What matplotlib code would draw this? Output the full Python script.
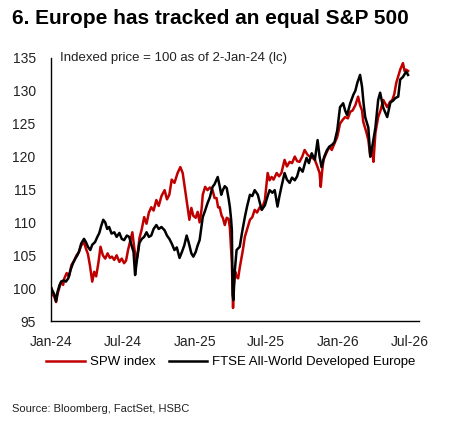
import matplotlib
matplotlib.use("Agg")
import matplotlib.pyplot as plt
import pandas as pd

plt.rcParams['font.family'] = ['Liberation Sans', 'DejaVu Sans']

# SPW index (red), indexed to 100 on 2-Jan-24
spw_dates = [
    "2024-01-02", "2024-01-05", "2024-01-09", "2024-01-14", "2024-01-18", "2024-01-22", "2024-01-27",
    "2024-02-01", "2024-02-04", "2024-02-10", "2024-02-16", "2024-02-22", "2024-02-29", "2024-03-06",
    "2024-03-12", "2024-03-18", "2024-03-25", "2024-03-30", "2024-04-04", "2024-04-09", "2024-04-15",
    "2024-04-20", "2024-04-25", "2024-05-01", "2024-05-06", "2024-05-12", "2024-05-18", "2024-05-24",
    "2024-05-30", "2024-06-04", "2024-06-10", "2024-06-16", "2024-06-23", "2024-06-29", "2024-07-05",
    "2024-07-10", "2024-07-15", "2024-07-20", "2024-07-26", "2024-07-30", "2024-08-05", "2024-08-10",
    "2024-08-13", "2024-08-19", "2024-08-25", "2024-08-31", "2024-09-06", "2024-09-12", "2024-09-18",
    "2024-09-25", "2024-10-01", "2024-10-08", "2024-10-16", "2024-10-22", "2024-10-28", "2024-11-03",
    "2024-11-10", "2024-11-18", "2024-11-25", "2024-12-01", "2024-12-07", "2024-12-12", "2024-12-18",
    "2024-12-23", "2024-12-28", "2025-01-03", "2025-01-08", "2025-01-13", "2025-01-18", "2025-01-21",
    "2025-01-27", "2025-02-02", "2025-02-08", "2025-02-15", "2025-02-20", "2025-02-25", "2025-03-01",
    "2025-03-05", "2025-03-10", "2025-03-13", "2025-03-18", "2025-03-23", "2025-03-28", "2025-03-31",
    "2025-04-03", "2025-04-05", "2025-04-08", "2025-04-10", "2025-04-14", "2025-04-17", "2025-04-21",
    "2025-04-25", "2025-05-03", "2025-05-08", "2025-05-14", "2025-05-21", "2025-05-27", "2025-06-02",
    "2025-06-08", "2025-06-15", "2025-06-20", "2025-06-28", "2025-07-05", "2025-07-10", "2025-07-15",
    "2025-07-20", "2025-07-28", "2025-08-03", "2025-08-09", "2025-08-17", "2025-08-23", "2025-08-30",
    "2025-09-05", "2025-09-12", "2025-09-18", "2025-09-24", "2025-10-01", "2025-10-07", "2025-10-14",
    "2025-10-20", "2025-10-27", "2025-11-02", "2025-11-09", "2025-11-14", "2025-11-17", "2025-11-20",
    "2025-11-24", "2025-12-01", "2025-12-09", "2025-12-15", "2025-12-22", "2025-12-29", "2026-01-05",
    "2026-01-12", "2026-01-18", "2026-01-25", "2026-01-31", "2026-02-06", "2026-02-13", "2026-02-20",
    "2026-02-25", "2026-03-02", "2026-03-05", "2026-03-13", "2026-03-18", "2026-03-23", "2026-03-28",
    "2026-03-31", "2026-04-05", "2026-04-12", "2026-04-18", "2026-04-25", "2026-05-05", "2026-05-12",
    "2026-05-18", "2026-05-23", "2026-05-28", "2026-06-07", "2026-06-14", "2026-06-18", "2026-06-22",
    "2026-06-27",
]
spw_values = [
    100.0, 99.0, 98.8, 97.9, 99.2, 100.0, 101.0,
    100.5, 101.5, 102.3, 101.8, 103.5, 104.2, 105.0,
    105.5, 106.5, 107.0, 106.0, 105.2, 103.5, 101.0,
    102.5, 101.8, 104.0, 106.3, 105.0, 104.5, 105.3,
    104.6, 104.8, 104.3, 105.0, 104.0, 104.5, 103.8,
    104.2, 105.8, 107.0, 108.5, 106.5, 104.0, 106.0,
    107.6, 109.0, 110.8, 109.8, 111.5, 112.3, 111.8,
    113.4, 112.5, 114.0, 114.9, 113.5, 114.2, 116.5,
    116.0, 117.5, 118.4, 117.5, 115.0, 113.0, 110.4,
    112.2, 111.0, 110.7, 111.6, 110.0, 112.0, 114.2,
    115.4, 114.9, 115.3, 114.9, 113.7, 113.7, 112.3,
    112.3, 111.0, 110.7, 109.6, 110.7, 110.5, 109.1,
    106.0, 103.8, 97.0, 100.5, 102.5, 101.7, 101.5,
    103.1, 105.8, 107.8, 109.0, 110.4, 110.8, 111.9,
    111.5, 112.3, 112.0, 113.4, 117.5, 116.4, 116.9,
    116.5, 117.5, 117.0, 117.5, 119.5, 118.5, 119.2,
    119.0, 120.0, 119.3, 119.2, 120.0, 121.0, 120.3,
    120.0, 119.8, 119.5, 118.4, 117.5, 115.4, 117.5,
    119.5, 120.5, 121.5, 121.0, 122.0, 123.0, 125.0,
    125.6, 126.0, 125.8, 126.8, 127.0, 127.8, 129.1,
    127.8, 127.0, 125.3, 123.7, 122.5, 120.0, 121.0,
    119.2, 123.6, 126.0, 127.0, 128.6, 127.5, 128.3,
    128.6, 129.5, 131.2, 133.2, 134.2, 133.0, 133.2,
    133.0,
]

# FTSE All-World Developed Europe (black)
ftse_dates = [
    "2024-01-02", "2024-01-06", "2024-01-10", "2024-01-14", "2024-01-18", "2024-01-23", "2024-01-27",
    "2024-02-02", "2024-02-08", "2024-02-14", "2024-02-20", "2024-02-26", "2024-03-03", "2024-03-08",
    "2024-03-12", "2024-03-18", "2024-03-25", "2024-03-30", "2024-04-04", "2024-04-10", "2024-04-15",
    "2024-04-22", "2024-04-28", "2024-05-03", "2024-05-08", "2024-05-13", "2024-05-18", "2024-05-23",
    "2024-05-28", "2024-06-03", "2024-06-10", "2024-06-16", "2024-06-23", "2024-06-29", "2024-07-05",
    "2024-07-12", "2024-07-18", "2024-07-24", "2024-07-29", "2024-08-02", "2024-08-06", "2024-08-13",
    "2024-08-19", "2024-08-25", "2024-08-31", "2024-09-06", "2024-09-12", "2024-09-18", "2024-09-25",
    "2024-10-01", "2024-10-08", "2024-10-16", "2024-10-22", "2024-10-28", "2024-11-03", "2024-11-10",
    "2024-11-16", "2024-11-23", "2024-11-29", "2024-12-05", "2024-12-11", "2024-12-16", "2024-12-23",
    "2024-12-28", "2025-01-03", "2025-01-08", "2025-01-13", "2025-01-17", "2025-01-21", "2025-01-27",
    "2025-02-02", "2025-02-08", "2025-02-15", "2025-02-20", "2025-02-28", "2025-03-05", "2025-03-09",
    "2025-03-13", "2025-03-18", "2025-03-23", "2025-03-28", "2025-03-31", "2025-04-03", "2025-04-05",
    "2025-04-07", "2025-04-09", "2025-04-12", "2025-04-17", "2025-04-25", "2025-05-01", "2025-05-08",
    "2025-05-14", "2025-05-21", "2025-05-27", "2025-06-02", "2025-06-10", "2025-06-15", "2025-06-20",
    "2025-06-28", "2025-07-05", "2025-07-10", "2025-07-17", "2025-07-23", "2025-07-30", "2025-08-04",
    "2025-08-09", "2025-08-17", "2025-08-23", "2025-08-30", "2025-09-05", "2025-09-12", "2025-09-18",
    "2025-09-24", "2025-10-02", "2025-10-07", "2025-10-12", "2025-10-18", "2025-10-25", "2025-11-02",
    "2025-11-09", "2025-11-14", "2025-11-19", "2025-11-26", "2025-12-03", "2025-12-09", "2025-12-16",
    "2025-12-22", "2025-12-29", "2026-01-05", "2026-01-13", "2026-01-18", "2026-01-23", "2026-01-31",
    "2026-02-08", "2026-02-13", "2026-02-18", "2026-02-25", "2026-03-02", "2026-03-06", "2026-03-10",
    "2026-03-18", "2026-03-23", "2026-03-28", "2026-04-05", "2026-04-12", "2026-04-17", "2026-04-25",
    "2026-05-05", "2026-05-13", "2026-05-20", "2026-05-26", "2026-06-02", "2026-06-07", "2026-06-14",
    "2026-06-22", "2026-06-27",
]
ftse_values = [
    100.0, 99.5, 99.0, 98.0, 99.5, 100.5, 101.0,
    101.2, 101.0, 101.5, 102.8, 103.8, 104.5, 105.0,
    105.5, 106.8, 107.5, 107.0, 106.3, 105.8, 106.6,
    107.0, 107.8, 108.4, 109.5, 110.4, 110.0, 109.0,
    109.3, 108.3, 108.5, 107.8, 108.4, 107.5, 107.3,
    108.0, 107.8, 106.5, 105.5, 102.0, 104.0, 106.9,
    107.5, 107.8, 108.5, 107.8, 108.0, 109.0, 109.6,
    109.0, 109.3, 108.8, 108.0, 107.5, 106.8, 105.8,
    106.2, 104.6, 105.5, 106.5, 108.0, 107.0, 105.3,
    104.8, 105.5, 106.5, 107.3, 109.0, 110.8, 111.8,
    112.9, 113.8, 115.4, 115.8, 116.9, 115.5, 114.2,
    114.9, 115.5, 115.2, 113.5, 112.3, 110.5, 108.8,
    99.0, 98.2, 102.3, 105.8, 106.3, 108.5, 110.8,
    112.5, 114.2, 114.0, 114.9, 114.2, 113.0, 111.9,
    112.6, 114.0, 114.9, 114.5, 114.9, 112.4, 114.0,
    115.4, 117.5, 116.5, 116.0, 116.8, 116.4, 117.0,
    118.3, 117.7, 118.8, 119.8, 119.0, 120.5, 119.5,
    122.5, 120.0, 118.4, 120.0, 121.0, 121.5, 121.8,
    122.2, 124.0, 127.5, 128.1, 127.0, 126.3, 128.1,
    129.4, 130.0, 131.2, 132.4, 130.6, 128.0, 126.0,
    124.4, 120.0, 121.5, 124.4, 128.6, 129.7, 127.4,
    126.0, 128.2, 128.5, 128.9, 129.1, 131.7, 132.1,
    132.9, 132.4,
]

tick_dates = ["2024-01-01", "2024-07-01", "2025-01-01", "2025-07-01", "2026-01-01", "2026-07-01"]
tick_labels = ["Jan-24", "Jul-24", "Jan-25", "Jul-25", "Jan-26", "Jul-26"]

fig = plt.figure(figsize=(4.59, 4.22), dpi=100)
ax = fig.add_axes([0.111, 0.239, 0.802, 0.624])

ax.plot(pd.to_datetime(spw_dates), spw_values, color='#C00000', lw=1.8, label="SPW index")
ax.plot(pd.to_datetime(ftse_dates), ftse_values, color='black', lw=1.8,
        label="FTSE All-World Developed Europe")

ax.set_xlim(pd.Timestamp("2024-01-01"), pd.Timestamp("2026-07-25"))
ax.set_ylim(95, 135)
ax.set_yticks(range(95, 136, 5))
ax.set_xticks(pd.to_datetime(tick_dates))
ax.set_xticklabels(tick_labels)
ax.tick_params(axis='both', length=0, labelsize=10, colors='#222222')
ax.tick_params(axis='x', pad=10)
ax.tick_params(axis='y', pad=11)

for s in ['top', 'right']:
    ax.spines[s].set_visible(False)
for s in ['left', 'bottom']:
    ax.spines[s].set_linewidth(1.0)

ax.text(0.025, 1.0, "Indexed price = 100 as of 2-Jan-24 (lc)", transform=ax.transAxes,
        fontsize=9.5, va='center', ha='left', color='#222222')

fig.text(0.026, 0.957, "6. Europe has tracked an equal S&P 500", fontsize=15,
         fontweight='bold', va='center', ha='left')

fig.legend(loc='center', bbox_to_anchor=(0.503, 0.142), ncol=2, frameon=False,
           fontsize=9.5, handlelength=2.9, columnspacing=1.0, handletextpad=0.4)

fig.text(0.026, 0.031, "Source: Bloomberg, FactSet, HSBC", fontsize=8, va='center', ha='left',
         color='#222222')

plt.savefig("out.png", dpi=100)
